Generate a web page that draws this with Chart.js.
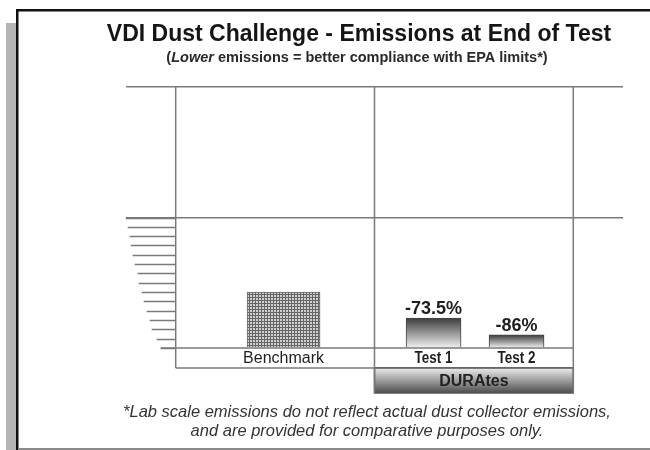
<!DOCTYPE html>
<html>
<head>
<meta charset="utf-8">
<script src="https://cdn.jsdelivr.net/npm/chart.js@4.4.1/dist/chart.umd.min.js"></script>
<style>
  html, body { margin: 0; padding: 0; background: #fff; }
  canvas { display: block; }
</style>
</head>
<body>
<canvas id="dustChart" width="650" height="450"></canvas>
<script>
const titleText = "VDI Dust Challenge - Emissions at End of Test";
const subtitleLead = "Lower";
const subtitleRest = " emissions = better compliance with EPA limits*)";
const footnoteLines = [
  "*Lab scale emissions do not reflect actual dust collector emissions,",
  "and are provided for comparative purposes only.",
];

const categories = ["Benchmark", "Test 1", "Test 2"];
const emissions = [6.0, 3.2, 1.4];
const reductionLabels = ["", "-73.5%", "-86%"];
const groupLabel = "DURAtes";
const majorTicks = [0, 14, 28];

// layout on the x scale (0..5): where each column sits
const slots = [1.585, 3.094, 3.929];
const columnEdges = [0.5, 2.5, 4.5];
// lengths of the little stair lines on the left, bottom to top
const stairLengths = [15, 19, 24, 26, 29, 32, 34, 37, 38, 41, 43, 45, 46, 48, 50];

const FONT = "'Liberation Sans', Arial, sans-serif";
const LINE = "#7a7a7a";

const canvasElement = document.getElementById("dustChart");
const ctx0 = canvasElement.getContext("2d");

function makeGridPattern() {
  const c = document.createElement("canvas");
  c.width = 3;
  c.height = 3;
  const g = c.getContext("2d");
  g.fillStyle = "#cfcfcf";
  g.fillRect(0, 0, 3, 3);
  g.fillStyle = "#666";
  g.fillRect(0, 0, 3, 1);
  g.fillRect(0, 0, 1, 3);
  return ctx0.createPattern(c, "repeat");
}

function barGradient(context, stops) {
  const chart = context.chart;
  if (!chart.chartArea || !context.raw) return stops[1];
  const y = chart.scales.y;
  const top = y.getPixelForValue(context.raw.y);
  const bottom = y.getPixelForValue(0);
  const g = chart.ctx.createLinearGradient(0, top, 0, bottom);
  g.addColorStop(0, stops[0]);
  g.addColorStop(1, stops[2]);
  return g;
}

// draws centred text squeezed horizontally (the original uses a narrow face)
function narrowText(c, text, x, y, squeeze) {
  c.save();
  c.translate(x, y);
  c.scale(squeeze, 1);
  c.fillText(text, 0, 0);
  c.restore();
}

const framePlugin = {
  id: "frame",
  beforeDraw(chart) {
    const c = chart.ctx;
    c.save();
    c.fillStyle = "#ffffff";
    c.fillRect(0, 0, 650, 450);
    c.fillStyle = "#b4b4b4";
    c.fillRect(6, 23, 10, 427);
    c.fillStyle = "#111";
    c.fillRect(16, 9, 634, 2.5);
    c.fillRect(16, 9, 2.5, 441);
    c.fillStyle = "#8a8a8a";
    c.fillRect(18, 448, 632, 2);
    c.restore();
  },
};

const decorPlugin = {
  id: "decor",
  afterDraw(chart) {
    const c = chart.ctx;
    const x = chart.scales.x;
    const y = chart.scales.y;
    const base = y.getPixelForValue(0);
    const rowBottom = base + 20;
    const boxBottom = rowBottom + 25;
    const left = x.getPixelForValue(columnEdges[0]);
    const mid = x.getPixelForValue(columnEdges[1]);
    const right = x.getPixelForValue(columnEdges[2]);
    const top = chart.chartArea.top;

    c.save();
    c.strokeStyle = LINE;
    c.lineWidth = 1.5;

    // stairs of minor ticks from 0 up to the middle line
    stairLengths.forEach((len, i) => {
      const py = Math.round(y.getPixelForValue(i)) + 0.5;
      c.beginPath();
      c.moveTo(left - len, py);
      c.lineTo(left, py);
      c.stroke();
    });

    // base line and label row
    c.beginPath();
    c.moveTo(left - stairLengths[0], base);
    c.lineTo(right, base);
    c.moveTo(left, rowBottom);
    c.lineTo(right, rowBottom);
    c.stroke();

    // group box
    const gb = c.createLinearGradient(0, rowBottom, 0, boxBottom);
    gb.addColorStop(0, "#ececec");
    gb.addColorStop(1, "#4e4e4e");
    c.fillStyle = gb;
    c.fillRect(mid, rowBottom, right - mid, boxBottom - rowBottom);
    c.strokeStyle = "#555";
    c.strokeRect(mid, rowBottom, right - mid, boxBottom - rowBottom);

    // column lines
    c.strokeStyle = LINE;
    c.beginPath();
    c.moveTo(left, top);
    c.lineTo(left, rowBottom);
    c.moveTo(mid, top);
    c.lineTo(mid, boxBottom);
    c.moveTo(right, top);
    c.lineTo(right, boxBottom);
    c.stroke();

    // category labels
    c.textAlign = "center";
    c.textBaseline = "middle";
    c.fillStyle = "#1e1e1e";
    const metaA = chart.getDatasetMeta(0);
    const metaB = chart.getDatasetMeta(1);
    c.font = "16px " + FONT;
    c.fillText(categories[0], metaA.data[0].x, base + 10.5);
    c.font = "bold 16px " + FONT;
    metaB.data.forEach((bar, i) => {
      narrowText(c, categories[i + 1], bar.x, base + 10.5, 0.84);
    });

    // reduction labels above bars
    c.font = "bold 18px " + FONT;
    c.textBaseline = "alphabetic";
    metaB.data.forEach((bar, i) => {
      c.fillText(reductionLabels[i + 1], bar.x, bar.y - 4);
    });

    // group label
    c.font = "bold 16px " + FONT;
    c.textBaseline = "middle";
    c.fillStyle = "#222";
    c.fillText(groupLabel, (mid + right) / 2, rowBottom + 13.5);

    // title block
    c.fillStyle = "#151515";
    c.font = "bold 23px " + FONT;
    c.textBaseline = "alphabetic";
    c.fillText(titleText, 359, 41);

    const sub = "bold 14.5px " + FONT;
    const subIt = "italic bold 14.5px " + FONT;
    c.textAlign = "left";
    c.font = sub;
    const wOpen = c.measureText("(").width;
    const wRest = c.measureText(subtitleRest).width;
    c.font = subIt;
    const wLead = c.measureText(subtitleLead).width;
    let sx = 357 - (wOpen + wLead + wRest) / 2;
    c.fillStyle = "#2a2a2a";
    c.font = sub;
    c.fillText("(", sx, 62);
    sx += wOpen;
    c.font = subIt;
    c.fillText(subtitleLead, sx, 62);
    sx += wLead;
    c.font = sub;
    c.fillText(subtitleRest, sx, 62);

    // footnote
    c.textAlign = "center";
    c.fillStyle = "#333";
    c.font = "italic 16.5px " + FONT;
    c.fillText(footnoteLines[0], 367, 417);
    c.fillText(footnoteLines[1], 367, 436);
    c.restore();
  },
};

const config = {
  type: "bar",
  data: {
    datasets: [
      {
        label: categories[0],
        data: [{ x: slots[0], y: emissions[0] }],
        backgroundColor: makeGridPattern(),
        borderColor: "#666",
        borderWidth: 1,
        barThickness: 73,
      },
      {
        label: groupLabel,
        data: [
          { x: slots[1], y: emissions[1] },
          { x: slots[2], y: emissions[2] },
        ],
        backgroundColor: (context) =>
          barGradient(context, ["#3c3c3c", "#888", "#f2f2f2"]),
        borderColor: "#444",
        borderWidth: 1,
        barThickness: 55,
      },
    ],
  },
  options: {
    responsive: false,
    animation: false,
    devicePixelRatio: 1,
    grouped: false,
    layout: { padding: { left: 126, top: 87, right: 27, bottom: 102 } },
    plugins: {
      legend: { display: false },
      tooltip: { enabled: false },
      title: { display: false },
    },
    scales: {
      x: {
        type: "linear",
        min: 0,
        max: 5,
        offset: false,
        display: false,
      },
      y: {
        min: 0,
        max: 28,
        afterBuildTicks: (scale) => {
          scale.ticks = majorTicks.map((v) => ({ value: v }));
        },
        border: { display: false },
        ticks: { display: false },
        grid: {
          drawTicks: false,
          lineWidth: 1.5,
          color: (c) => (c.tick && c.tick.value === 0 ? "rgba(0,0,0,0)" : LINE),
        },
      },
    },
  },
  plugins: [framePlugin, decorPlugin],
};

const dustChart = new Chart(canvasElement, config);
</script>
</body>
</html>
